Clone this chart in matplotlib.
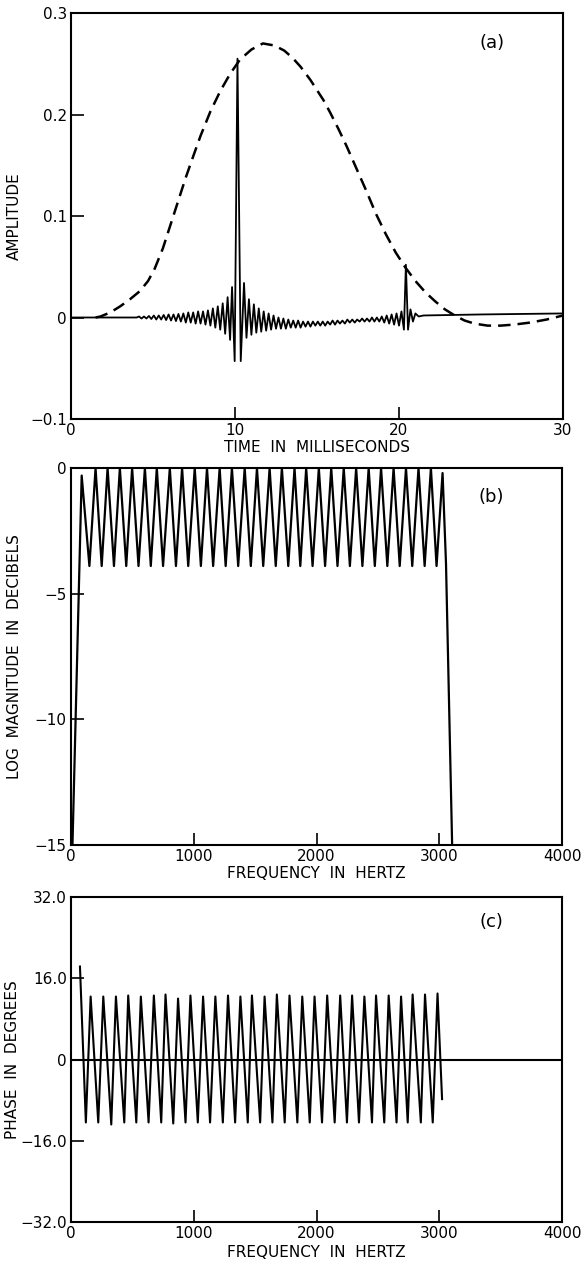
import matplotlib
matplotlib.use("Agg")
import matplotlib.pyplot as plt
import numpy as np

plt.rcParams['font.family'] = ['DejaVu Sans']

# ---------------- Panel (a) data ----------------
# dashed envelope (time ms, amplitude)
env_t = [1.5, 1.8, 2.4, 3.0, 3.6, 4.2, 4.7, 5.1, 5.6, 6.0, 6.5, 7.0, 7.5, 7.9, 8.5, 9.1, 9.7,
         10.3, 11.0, 11.7, 12.4, 13.0, 13.5, 14.0, 14.6, 15.4, 15.8, 16.3, 16.8, 17.4, 18.0,
         18.6, 19.2, 19.8, 20.4, 21.0, 21.6, 22.2, 22.8, 23.4, 24.0, 24.6, 25.4, 26.2, 27.0,
         28.0, 29.0, 30.0]
env_a = [0.0, 0.001, 0.005, 0.011, 0.018, 0.026, 0.036, 0.048, 0.068, 0.088, 0.113, 0.138,
         0.161, 0.179, 0.203, 0.223, 0.240, 0.254, 0.264, 0.270, 0.268, 0.263, 0.256, 0.247,
         0.234, 0.214, 0.202, 0.186, 0.169, 0.147, 0.125, 0.102, 0.082, 0.064, 0.049, 0.036,
         0.025, 0.016, 0.008, 0.002, -0.003, -0.006, -0.008, -0.008, -0.007, -0.005, -0.002, 0.002]

# solid signal vertices (time ms, amplitude)
sig_t = [0.0, 4.0, 4.15, 4.3, 4.45, 4.6, 4.75, 4.9, 5.05, 5.2, 5.35, 5.5, 5.65, 5.8, 5.95, 6.1,
         6.25, 6.4, 6.55, 6.7, 6.85, 7.0, 7.15, 7.3, 7.45, 7.6, 7.75, 7.9, 8.05, 8.2, 8.35, 8.5,
         8.65, 8.8, 8.95, 9.1, 9.25, 9.4, 9.55, 9.7, 9.82, 9.98, 10.15, 10.35, 10.55, 10.7, 10.85,
         11.0, 11.15, 11.3, 11.45, 11.6, 11.75, 11.9, 12.05, 12.2, 12.35, 12.5, 12.65, 12.8, 12.95,
         13.1, 13.25, 13.4, 13.55, 13.7, 13.85, 14.0, 14.15, 14.3, 14.45, 14.6, 14.75, 14.9, 15.05,
         15.2, 15.35, 15.5, 15.65, 15.8, 15.95, 16.1, 16.25, 16.4, 16.55, 16.7, 16.85, 17.0, 17.15,
         17.3, 17.45, 17.6, 17.75, 17.9, 18.05, 18.2, 18.35, 18.5, 18.65, 18.8, 18.95, 19.1, 19.25,
         19.4, 19.55, 19.7, 19.85, 20.0, 20.15, 20.3, 20.42, 20.55, 20.7, 20.85, 21.0, 21.2, 21.5,
         25.0, 30.0]
sig_a = [0.0, 0.0, 0.001, -0.001, 0.001, -0.001, 0.0015, -0.0015, 0.002, -0.002, 0.002, -0.002,
         0.0025, -0.0025, 0.003, -0.003, 0.003, -0.0035, 0.0035, -0.004, 0.004, -0.005, 0.005,
         -0.005, 0.005, -0.006, 0.006, -0.006, 0.006, -0.007, 0.007, -0.008, 0.009, -0.010, 0.011,
         -0.012, 0.014, -0.016, 0.020, -0.022, 0.030, -0.043, 0.255, -0.043, 0.034, -0.020, 0.018,
         -0.017, 0.013, -0.015, 0.009, -0.014, 0.006, -0.013, 0.004, -0.012, 0.002, -0.011, 0.000,
         -0.011, -0.001, -0.011, -0.002, -0.010, -0.003, -0.010, -0.003, -0.010, -0.004, -0.009,
         -0.004, -0.009, -0.004, -0.008, -0.004, -0.008, -0.004, -0.008, -0.004, -0.007, -0.003,
         -0.007, -0.003, -0.006, -0.003, -0.006, -0.002, -0.005, -0.002, -0.005, -0.002, -0.004,
         -0.001, -0.004, -0.001, -0.004, 0.000, -0.004, 0.000, -0.004, 0.001, -0.005, 0.002,
         -0.006, 0.003, -0.007, 0.004, -0.008, 0.006, -0.012, 0.052, -0.012, 0.008, -0.004,
         0.004, 0.001, 0.002, 0.003, 0.004]

# ---------------- Panel (b) data ----------------
b_peak_f = [87, 200, 298, 398, 498, 602, 699, 805, 905, 1008, 1108, 1211, 1311, 1415, 1515,
            1618, 1718, 1821, 1916, 2019, 2120, 2222, 2323, 2425, 2526, 2628, 2729, 2831, 2932, 3027]
b_peak_db = [-0.3, 0.0, 0.0, 0.0, 0.0, 0.0, 0.0, 0.0, 0.0, 0.0, 0.0, 0.0, 0.0, 0.0, 0.0,
             0.0, 0.0, 0.0, 0.0, 0.0, 0.0, 0.0, 0.0, 0.0, 0.0, 0.0, 0.0, 0.0, 0.0, -0.2]
b_trough_f = [150, 250, 350, 450, 550, 650, 750, 855, 955, 1058, 1158, 1260, 1362, 1465, 1566,
              1668, 1770, 1868, 1968, 2070, 2171, 2272, 2374, 2475, 2577, 2678, 2780, 2881, 2978]
b_trough_db = [-3.9, -3.9, -3.9, -3.9, -3.9, -3.9, -3.9, -3.9, -3.9, -3.9, -3.9, -3.9, -3.9, -3.9, -3.9,
               -3.9, -3.9, -3.9, -3.9, -3.9, -3.9, -3.9, -3.9, -3.9, -3.9, -3.9, -3.9, -3.9, -3.9]
b_start = (12, -15.0)
b_end_f = [3055, 3105]
b_end_db = [-3.8, -15.0]

# ---------------- Panel (c) data ----------------
c_spike = (73, 18.3)
c_trough_f = [121, 222, 328, 434, 532, 632, 735, 833, 933, 1033, 1133, 1237, 1337, 1440, 1541,
              1641, 1741, 1844, 1945, 2045, 2148, 2248, 2346, 2452, 2552, 2652, 2743, 2850, 2947]
c_trough_deg = [-12.4, -12.4, -12.8, -12.4, -12.4, -12.4, -12.4, -12.6, -12.4, -12.4, -12.4, -12.4,
                -12.4, -12.4, -12.4, -12.4, -12.4, -12.4, -12.4, -12.4, -12.4, -12.4, -12.4, -12.4,
                -12.4, -12.4, -12.4, -12.4, -12.4]
c_peak_f = [160, 263, 366, 466, 569, 675, 770, 872, 973, 1076, 1176, 1279, 1380, 1474, 1577,
            1677, 1780, 1884, 1984, 2087, 2193, 2290, 2390, 2485, 2588, 2689, 2783, 2884, 2986]
c_peak_deg = [12.4, 12.4, 12.4, 12.6, 12.4, 12.6, 12.8, 12.0, 12.6, 12.4, 12.4, 12.6, 12.4, 12.6,
              12.4, 12.8, 12.6, 12.4, 12.4, 12.6, 12.6, 12.6, 12.4, 12.6, 12.6, 12.4, 12.8, 12.8, 13.0]
c_end = (3023, -7.8)

# ---------------- build polylines ----------------
b_f = [b_start[0]]
b_db = [b_start[1]]
for i in range(len(b_trough_f)):
    b_f += [b_peak_f[i], b_trough_f[i]]
    b_db += [b_peak_db[i], b_trough_db[i]]
b_f += [b_peak_f[-1]] + b_end_f
b_db += [b_peak_db[-1]] + b_end_db

c_f = [c_spike[0]]
c_deg = [c_spike[1]]
for i in range(len(c_trough_f)):
    c_f += [c_trough_f[i], c_peak_f[i]]
    c_deg += [c_trough_deg[i], c_peak_deg[i]]
c_f.append(c_end[0])
c_deg.append(c_end[1])

# ---------------- figure ----------------
W, H = 585, 1266
fig = plt.figure(figsize=(W / 100, H / 100), dpi=100)

def axes_px(left, top, right, bottom):
    return fig.add_axes([left / W, 1 - bottom / H, (right - left) / W, (bottom - top) / H])

axa = axes_px(71, 13, 563, 419)
axb = axes_px(71, 468, 562, 845)
axc = axes_px(71, 897, 562, 1222)

LBL = dict(fontsize=11)
TICK_FS = 11

def style(ax):
    for s in ax.spines.values():
        s.set_linewidth(1.5)
    ax.tick_params(direction='in', length=9, width=1.2, labelsize=TICK_FS, pad=3)

# (a)
axa.plot(env_t, env_a, color='black', lw=1.8, dashes=(5, 2.8))
axa.plot(sig_t, sig_a, color='black', lw=1.3)
axa.set_xlim(0, 30)
axa.set_ylim(-0.1, 0.3)
axa.set_xticks([0, 10, 20, 30])
axa.set_xticklabels(['0', '10', '20', '30'])
axa.set_yticks([-0.1, 0, 0.1, 0.2, 0.3])
axa.set_yticklabels(['\u22120.1', '0', '0.1', '0.2', '0.3'])
axa.set_xlabel('TIME  IN  MILLISECONDS', labelpad=1, **LBL)
axa.set_ylabel('AMPLITUDE', labelpad=6, **LBL)
axa.text(0.856, 0.925, '(a)', transform=axa.transAxes, fontsize=13, ha='center', va='center')
style(axa)

# (b)
axb.plot(b_f, b_db, color='black', lw=1.6)
axb.set_xlim(0, 4000)
axb.set_ylim(-15, 0)
axb.set_xticks([0, 1000, 2000, 3000, 4000])
axb.set_yticks([-15, -10, -5, 0])
axb.set_yticklabels(['\u221215', '\u221210', '\u22125', '0'])
axb.set_xlabel('FREQUENCY  IN  HERTZ', labelpad=1, **LBL)
axb.set_ylabel('LOG  MAGNITUDE  IN  DECIBELS', labelpad=9, **LBL)
axb.text(0.856, 0.923, '(b)', transform=axb.transAxes, fontsize=13, ha='center', va='center')
style(axb)

# (c)
axc.plot([0, 4000], [0, 0], color='black', lw=1.5)
axc.plot(c_f, c_deg, color='black', lw=1.5)
axc.set_xlim(0, 4000)
axc.set_ylim(-32, 32)
axc.set_xticks([0, 1000, 2000, 3000, 4000])
axc.set_yticks([-32, -16, 0, 16, 32])
axc.set_yticklabels(['\u221232.0', '\u221216.0', '0', '16.0', '32.0'])
axc.set_xlabel('FREQUENCY  IN  HERTZ', labelpad=3, **LBL)
axc.set_ylabel('PHASE  IN  DEGREES', labelpad=0, **LBL)
axc.text(0.856, 0.923, '(c)', transform=axc.transAxes, fontsize=13, ha='center', va='center')
style(axc)

fig.savefig('out.png', dpi=100)
